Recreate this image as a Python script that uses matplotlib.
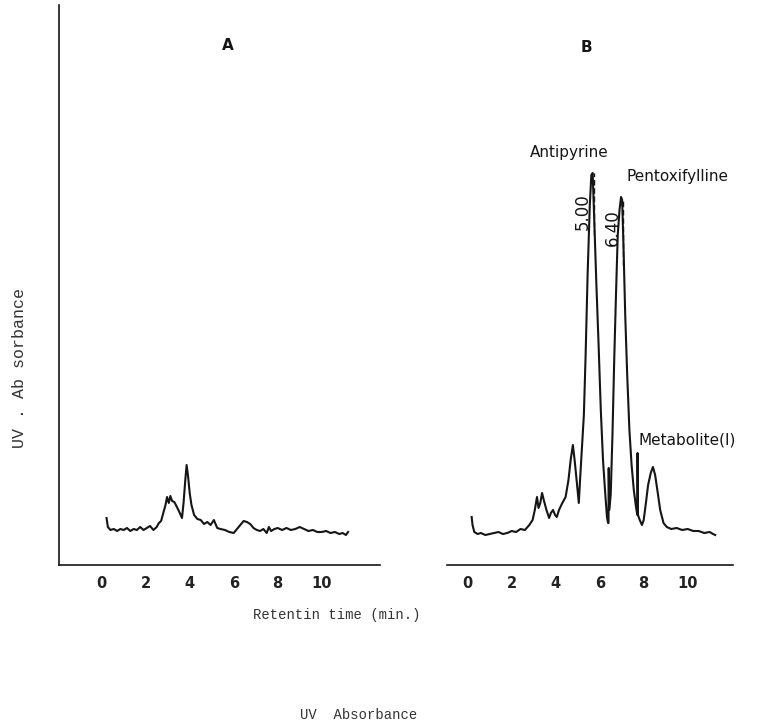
import matplotlib
matplotlib.use("Agg")
import matplotlib.pyplot as plt

# ---- data (retention time in min, absorbance in arbitrary units) ----
time_a = [0.22, 0.28, 0.4, 0.55, 0.7, 0.85, 1.0, 1.15, 1.3, 1.45, 1.6, 1.75, 1.9, 2.05, 2.2, 2.35,
          2.5, 2.6, 2.7, 2.8, 2.9, 2.97, 3.05, 3.12, 3.2, 3.3, 3.42, 3.55, 3.65, 3.72, 3.8, 3.86,
          3.92, 4.0, 4.08, 4.2, 4.35, 4.5, 4.65, 4.8, 4.95, 5.1, 5.25, 5.4, 5.6, 5.8, 6.0, 6.15,
          6.3, 6.45, 6.6, 6.75, 6.9, 7.05, 7.2, 7.35, 7.5, 7.6, 7.7, 7.85, 8.0, 8.2, 8.4, 8.6,
          8.8, 9.0, 9.2, 9.4, 9.6, 9.8, 10.0, 10.2, 10.4, 10.6, 10.8, 10.95, 11.1, 11.2]
abs_a = [47, 38, 35, 36, 34, 36, 35, 37, 34, 36, 35, 38, 35, 37, 39, 35,
         38, 42, 44, 52, 60, 68, 62, 69, 64, 63, 58, 52, 47, 62, 85, 100,
         90, 72, 60, 50, 46, 45, 41, 43, 40, 45, 37, 36, 35, 33, 32, 36,
         40, 44, 43, 41, 37, 35, 34, 36, 32, 38, 34, 36, 37, 35, 37, 35,
         36, 38, 36, 34, 35, 33, 33, 34, 32, 33, 31, 32, 30, 33]

time_b = [0.18, 0.22, 0.3, 0.45, 0.6, 0.8, 1.0, 1.2, 1.4, 1.6, 1.8, 2.0, 2.2, 2.4, 2.6, 2.8,
          2.95, 3.05, 3.15, 3.22, 3.3, 3.38, 3.47, 3.58, 3.7, 3.78, 3.88, 3.97, 4.05, 4.15, 4.3,
          4.45, 4.58, 4.68, 4.78, 4.86, 4.95, 5.05, 5.12, 5.2, 5.28, 5.36, 5.45, 5.55, 5.62,
          5.68, 5.76, 5.85, 5.95, 6.05, 6.15, 6.25, 6.33, 6.38, 6.4, 6.41, 6.43, 6.5, 6.58,
          6.66, 6.74, 6.82, 6.9, 6.97, 7.02, 7.08, 7.16, 7.25, 7.35, 7.45, 7.55, 7.65, 7.71,
          7.72, 7.74, 7.82, 7.92, 8.0, 8.1, 8.2, 8.32, 8.42, 8.52, 8.62, 8.75, 8.9, 9.05, 9.25,
          9.5, 9.75, 10.0, 10.25, 10.5, 10.75, 11.0, 11.15, 11.25]
abs_b = [48, 40, 33, 31, 32, 30, 31, 32, 33, 31, 32, 34, 33, 36, 35, 40,
         45, 55, 68, 57, 62, 72, 64, 55, 47, 52, 55, 50, 48, 55, 62,
         68, 85, 105, 120, 105, 85, 62, 90, 120, 150, 210, 290, 360, 390,
         392, 340, 280, 220, 155, 105, 72, 48, 42, 42, 97, 55, 70, 130,
         205, 270, 330, 355, 368, 365, 320, 250, 190, 135, 100, 75, 58, 50,
         112, 50, 45, 40, 45, 62, 80, 92, 98, 90, 75, 55, 42, 38, 36,
         37, 35, 36, 34, 34, 32, 33, 31, 30]

ticks = [0, 2, 4, 6, 8, 10]
marker_times = [5.72, 7.06]
marker_lo = [330, 300]
marker_hi = [392, 365]

W, H = 765, 728
fig = plt.figure(figsize=(W / 100, H / 100), dpi=100)
fig.patch.set_facecolor("white")

def px_axes(l, r, b, t):
    return fig.add_axes([l / W, 1 - b / H, (r - l) / W, (b - t) / H])

axA = px_axes(59, 380, 565, 5)
axB = px_axes(447, 733, 565, 5)

ink = "#151515"
for ax, t, a in [(axA, time_a, abs_a), (axB, time_b, abs_b)]:
    ax.plot(t, a, color=ink, lw=1.5, solid_joinstyle="round")
    ax.set_ylim(0, 560)
    ax.set_xticks(ticks)
    ax.set_xticklabels([str(v) for v in ticks], fontsize=10.5, fontweight="bold",
                       family="DejaVu Sans", color="#222222")
    ax.tick_params(axis="x", length=0, pad=8)
    ax.set_yticks([])
    for s in ["top", "right"]:
        ax.spines[s].set_visible(False)
    ax.spines["bottom"].set_linewidth(1.2)
    ax.spines["bottom"].set_color(ink)
    ax.set_facecolor("none")

axA.set_xlim((59 - 101.7) / 22.0, (380 - 101.7) / 22.0)
axB.set_xlim((447 - 467.7) / 22.0, (733 - 467.7) / 22.0)
axA.spines["left"].set_linewidth(1.2)
axA.spines["left"].set_color(ink)
axB.spines["left"].set_visible(False)

axB.vlines(marker_times, marker_lo, marker_hi, colors=ink, lw=1.0, linestyles=(0, (4, 2)))

# panel letters
fig.text(228 / W, 1 - 45 / H, "A", fontsize=11, fontweight="bold", ha="center", va="center", color=ink)
fig.text(586 / W, 1 - 48 / H, "B", fontsize=11, fontweight="bold", ha="center", va="center", color=ink)

# peak labels
fig.text(569 / W, 1 - 152 / H, "Antipyrine", fontsize=11, ha="center", va="center", color=ink)
fig.text(678 / W, 1 - 177 / H, "Pentoxifylline", fontsize=11, ha="center", va="center", color=ink)
fig.text(687 / W, 1 - 440 / H, "Metabolite(I)", fontsize=11, ha="center", va="center", color=ink)
fig.text(583 / W, 1 - 212 / H, "5.00", fontsize=12, rotation=90, ha="center", va="center", color=ink)
fig.text(613 / W, 1 - 228 / H, "6.40", fontsize=12, rotation=90, ha="center", va="center", color=ink)

mono = "Liberation Mono"
fig.text(337 / W, 1 - 615 / H, "Retentin time (min.)", fontsize=10, family=mono,
         ha="center", va="center", color="#333333")
fig.text(20 / W, 1 - 368 / H, "UV . Ab sorbance", fontsize=12, family=mono, rotation=90,
         ha="center", va="center", color="#333333")
fig.text(359 / W, 1 - 715 / H, "UV  Absorbance", fontsize=10, family=mono,
         ha="center", va="center", color="#333333")

fig.savefig("out.png", dpi=100, facecolor="white")
